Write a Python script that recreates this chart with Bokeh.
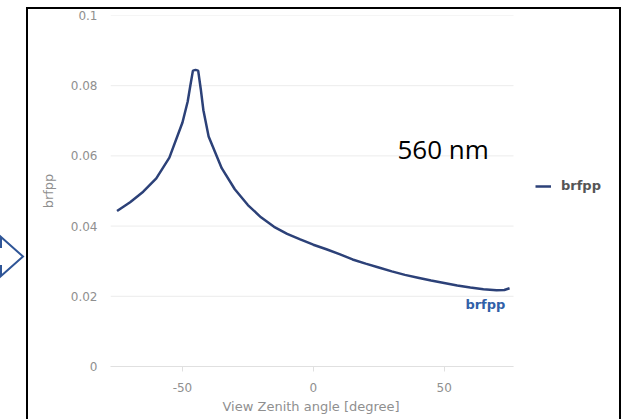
from urllib.parse import quote
from bokeh.plotting import figure
from bokeh.models import FixedTicker, Label, Legend, LegendItem, Title
from bokeh.embed import file_html
from bokeh.resources import INLINE

# ---- data ----
angle = [-75, -70, -65, -60, -55, -50, -48, -47, -46, -45, -44, -43, -42, -40,
         -35, -30, -25, -20, -15, -10, -5, 0, 5, 10, 15, 20, 25, 30, 35, 40,
         45, 50, 55, 60, 65, 70, 73, 75]
brfpp = [0.0443, 0.0468, 0.0498, 0.0536, 0.0595, 0.0695, 0.0755, 0.0800,
         0.0843, 0.0845, 0.0843, 0.0790, 0.0730, 0.0655, 0.0565, 0.0505,
         0.0460, 0.0425, 0.0398, 0.0378, 0.0362, 0.0347, 0.0334, 0.0320,
         0.0305, 0.0293, 0.0282, 0.0271, 0.0261, 0.0253, 0.0245, 0.0238,
         0.0231, 0.0225, 0.0220, 0.0217, 0.0218, 0.0223]

y_ticks = [0, 0.02, 0.04, 0.06, 0.08, 0.1]
y_tick_labels = ["0", "0.02", "0.04", "0.06", "0.08", "0.1"]
x_ticks = [-50, 0, 50]
x_tick_labels = ["-50", "0", "50"]
x_axis_span = (-77.5, 76.5)

series_name = "brfpp"
x_title = "View Zenith angle [degree]"
y_title = "brfpp"
note = "560 nm"

LINE = "#2c4178"
TICK = "#8f8f8f"
FONT = "DejaVu Sans"

W, H = 624, 419
FL, FR, FT, FB = 110, 513, 15, 366  # plotting area edges in page pixels
px_per_unit = (FR - FL) / (x_axis_span[1] - x_axis_span[0])
x_end = x_axis_span[0] + (W - FL) / px_per_unit  # frame extends to the right edge (room for legend)

p = figure(width=W, height=H, x_range=(x_axis_span[0], x_end), y_range=(0, 0.1),
           output_backend="svg", toolbar_location=None,
           min_border_left=FL, min_border_right=0,
           min_border_top=FT, min_border_bottom=H - FB)
p.outline_line_color = None
p.background_fill_alpha = 0
p.border_fill_alpha = 0

p.xgrid.grid_line_color = None
p.ygrid.grid_line_color = None
p.segment(x0=[x_axis_span[0]] * len(y_ticks), y0=y_ticks,
          x1=[x_axis_span[1]] * len(y_ticks), y1=y_ticks,
          line_color="#ececec", line_width=1, level="underlay")

p.yaxis.ticker = FixedTicker(ticks=y_ticks)
p.yaxis.major_label_overrides = dict(zip(y_ticks, y_tick_labels))
p.xaxis.ticker = FixedTicker(ticks=x_ticks)
p.xaxis.major_label_overrides = dict(zip(x_ticks, x_tick_labels))
p.xaxis.bounds = x_axis_span

for ax in (p.xaxis[0], p.yaxis[0]):
    ax.minor_tick_line_color = None
    ax.major_label_text_color = TICK
    ax.major_label_text_font = FONT
    ax.major_label_text_font_size = "12px"
    ax.axis_label_text_color = TICK
    ax.axis_label_text_font = FONT
    ax.axis_label_text_font_size = "13px"
    ax.axis_label_text_font_style = "normal"

p.yaxis.axis_line_color = None
p.yaxis.major_tick_line_color = None
p.yaxis.major_tick_out = 0
p.yaxis.major_label_standoff = 13
p.yaxis.axis_label = y_title
p.yaxis.axis_label_standoff = 12

p.xaxis.axis_line_color = "#e0e0e0"
p.xaxis.major_tick_line_color = "#e0e0e0"
p.xaxis.major_tick_in = 0
p.xaxis.major_tick_out = 5
p.xaxis.major_label_standoff = 11

# x-axis title, centred under the plotting area (not the wider frame)
p.add_layout(Title(text=x_title, align="left", offset=112, standoff=8,
                   vertical_align="top", text_font=FONT, text_font_size="13px",
                   text_font_style="normal", text_color=TICK), "below")

r = p.line(angle, brfpp, line_color=LINE, line_width=2.5)

legend = Legend(items=[LegendItem(label=series_name, renderers=[r])],
                location=(425, 173), orientation="vertical",
                padding=5, margin=0, spacing=0,
                glyph_width=16, glyph_height=12, label_standoff=10,
                border_line_color=None, background_fill_alpha=0,
                label_text_font=FONT, label_text_font_size="13px",
                label_text_font_style="bold", label_text_color="#555555")
p.add_layout(legend, "center")

# series name next to the line end
p.add_layout(Label(x=73.4, y=0.0177, text=series_name, text_align="right",
                   text_baseline="middle", text_color="#3060a8",
                   text_font=FONT, text_font_size="13px",
                   text_font_style="bold"))

# wavelength note
p.add_layout(Label(x=397 - FL, y=FB - 148, x_units="screen", y_units="screen",
                   text=note, text_align="left", text_baseline="alphabetic",
                   text_color="black", text_font="Open Sans",
                   text_font_size="26px"))

# decorations outside the chart: frame (top, left, right) and a hollow arrow
border_pts = [(27, 430), (27, 8), (620, 8), (620, 430)]
arrow_pts = [(-10, 247), (1, 247), (1, 237), (23, 256.5), (1, 276), (1, 266), (-10, 266)]

def pts(seq):
    return " ".join(f"{a},{b}" for a, b in seq)

svg = (f"<svg xmlns='http://www.w3.org/2000/svg' width='{W}' height='{H}'>"
       f"<polyline points='{pts(border_pts)}' fill='none' stroke='black' stroke-width='2'/>"
       f"<polygon points='{pts(arrow_pts)}' fill='none' stroke='#2f5597' stroke-width='2'/>"
       "</svg>")
p.styles = {
    "background-color": "white",
    "background-image": f'url("data:image/svg+xml,{quote(svg, safe="")}")',
    "background-repeat": "no-repeat",
    "background-position": "0 0",
}

open("out.html", "w").write(file_html(p, INLINE))
